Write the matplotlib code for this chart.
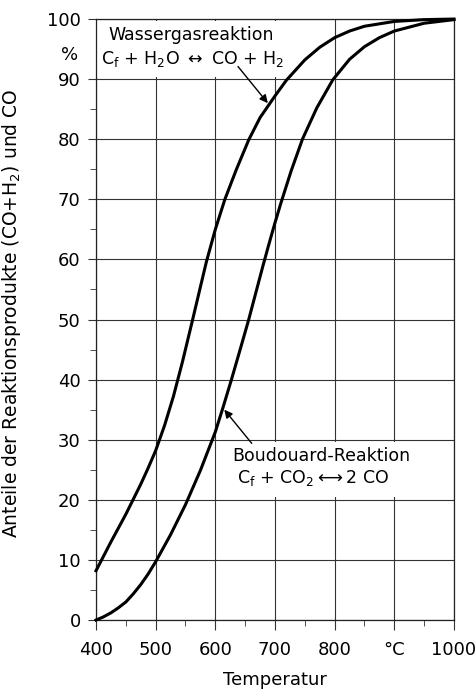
import matplotlib
matplotlib.use('Agg')
import matplotlib.pyplot as plt
from matplotlib.patches import Rectangle
from matplotlib.ticker import FixedLocator

# values (temperature in degC, share in %)
temp_wasser = [400, 425, 450, 475, 487, 500, 515, 530, 545, 562, 573, 585, 600, 616,
               635, 656, 675, 700, 719, 750, 775, 800, 825, 850, 900, 950, 1000]
anteil_wasser = [8.2, 13.0, 17.6, 22.6, 25.2, 28.2, 32.4, 37.3, 43.0, 50.0, 54.6, 59.6, 65.0, 70.0,
                 74.9, 79.9, 83.6, 87.2, 89.8, 93.2, 95.3, 96.9, 98.0, 98.8, 99.6, 99.9, 100.0]

temp_boud = [400, 412, 425, 437, 450, 462, 475, 487, 500, 525, 550, 575, 600, 613, 627, 641,
             656, 668, 680, 690, 700, 710, 727, 746, 770, 797, 825, 850, 875, 900, 950, 1000]
anteil_boud = [0.0, 0.5, 1.2, 2.0, 3.0, 4.3, 5.9, 7.6, 9.7, 14.2, 19.2, 24.9, 31.3, 35.4, 40.0, 44.8,
               50.0, 54.5, 59.0, 62.6, 66.1, 69.4, 74.7, 80.0, 85.2, 89.9, 93.3, 95.4, 96.9, 98.0,
               99.3, 99.9]

x_ticks = [400, 500, 600, 700, 800, 900, 1000]
x_labels = ['400', '500', '600', '700', '800', '°C', '1000']
y_ticks = [0, 10, 20, 30, 40, 50, 60, 70, 80, 90, 100]
y_minor = [5, 15, 25, 35, 45, 55, 65, 75, 85]

plt.rcParams['font.family'] = ['DejaVu Sans']
plt.rcParams['mathtext.default'] = 'regular'

fig = plt.figure(figsize=(4.76, 6.92), dpi=100)
ax = fig.add_axes([0.2017, 0.104, 0.752, 0.8685])

ax.set_xlim(400, 1000)
ax.set_ylim(0, 100)
ax.set_axisbelow(True)
ax.grid(True, which='major', color='#333333', linewidth=0.8)

# white boxes behind the labels (grid is hidden there)
ax.add_patch(Rectangle((400.5, 90.3), 345, 9.4, facecolor='white', edgecolor='none', zorder=1))
ax.add_patch(Rectangle((622, 20.4), 308, 9.2, facecolor='white', edgecolor='none', zorder=1))

ax.plot(temp_wasser, anteil_wasser, color='black', linewidth=2.2, zorder=3, clip_on=False,
        solid_joinstyle='round')
ax.plot(temp_boud, anteil_boud, color='black', linewidth=2.2, zorder=3, clip_on=False,
        solid_joinstyle='round')

ax.set_xticks(x_ticks)
ax.set_xticklabels(x_labels)
ax.xaxis.set_minor_locator(FixedLocator([450, 550, 650, 750, 850, 950]))
ax.set_yticks(y_ticks)
ax.yaxis.set_minor_locator(FixedLocator(y_minor))
ax.tick_params(axis='both', which='major', labelsize=13, color='#333333')
ax.tick_params(axis='x', which='major', length=7, pad=8)
ax.tick_params(axis='y', which='major', length=6, pad=5)
ax.tick_params(axis='x', which='minor', length=4.5, color='#333333')
ax.tick_params(axis='y', which='minor', length=4.5, color='#333333')
for s in ax.spines.values():
    s.set_color('#222222')
    s.set_linewidth(0.9)

ax.set_xlabel('Temperatur', fontsize=13, labelpad=9)
ax.set_ylabel('Anteile der Reaktionsprodukte (CO+H$_2$) und CO', fontsize=13.5)
ax.yaxis.set_label_coords(-0.205, 0.51)

ax.text(356, 93.2, '%', fontsize=13, ha='center', va='baseline', clip_on=False)

# Wassergasreaktion label
ax.text(420, 96.5, 'Wassergasreaktion', fontsize=12.5, va='baseline', zorder=4)
ax.text(408, 92.6, r'C$_{f}$ + H$_{2}$O $\leftrightarrow$ CO + H$_{2}$', fontsize=12.5,
        va='baseline', zorder=4)
ax.annotate('', xy=(688, 86.0), xytext=(638, 92.1),
            arrowprops=dict(arrowstyle='-|>', color='black', lw=1, mutation_scale=12,
                            shrinkA=0, shrinkB=0), zorder=4)

# Boudouard label
ax.text(629, 26.5, 'Boudouard-Reaktion', fontsize=12.5, va='baseline', zorder=4)
ax.text(636, 22.8, r'C$_{f}$ + CO$_{2}$$\longleftrightarrow$2 CO', fontsize=12.5,
        va='baseline', zorder=4)
ax.annotate('', xy=(615, 35.0), xytext=(661, 29.4),
            arrowprops=dict(arrowstyle='-|>', color='black', lw=1, mutation_scale=12,
                            shrinkA=0, shrinkB=0), zorder=4)

fig.savefig('out.png', dpi=100)
